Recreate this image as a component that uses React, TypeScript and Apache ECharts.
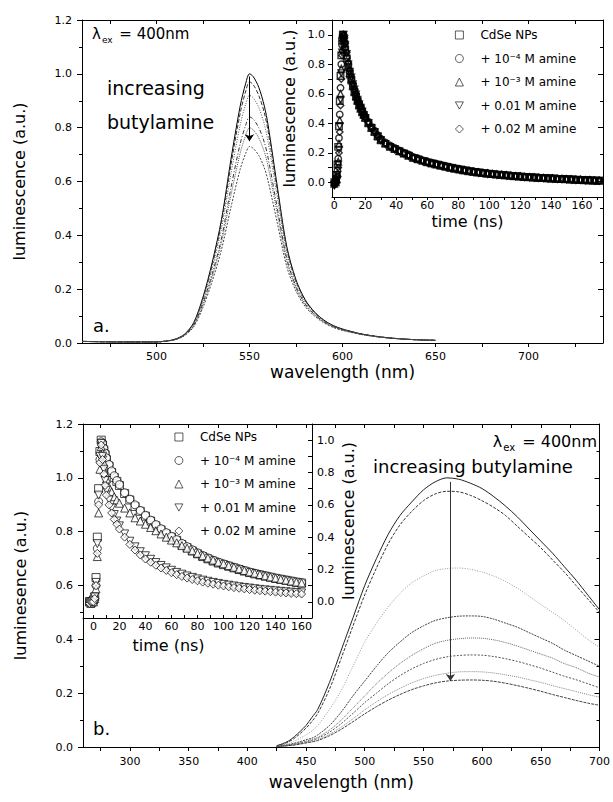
import React, { useEffect, useRef } from "react";
import * as echarts from "echarts";

const FONT = "DejaVu Sans";

// ---------- panel a: steady-state spectra ----------
const topWl = [460, 480, 500, 505, 510, 515, 520, 525, 530, 535, 540, 545, 548, 550, 552, 555, 558, 560, 565, 570, 575, 580, 585, 590, 595, 600, 610, 620, 630, 640, 650];
const topSpec1 = [0.006, 0.004, 0.004, 0.007, 0.014, 0.032, 0.075, 0.17, 0.30, 0.46, 0.68, 0.88, 0.965, 1.0, 0.99, 0.95, 0.88, 0.81, 0.58, 0.36, 0.235, 0.16, 0.115, 0.085, 0.065, 0.052, 0.034, 0.023, 0.016, 0.012, 0.01];
const topSpec2 = [0.006, 0.004, 0.004, 0.007, 0.014, 0.031, 0.073, 0.165, 0.29, 0.447, 0.66, 0.853, 0.936, 0.97, 0.96, 0.92, 0.855, 0.787, 0.565, 0.352, 0.23, 0.157, 0.113, 0.084, 0.064, 0.051, 0.034, 0.023, 0.016, 0.012, 0.01];
const topSpec3 = [0.006, 0.004, 0.004, 0.007, 0.013, 0.03, 0.07, 0.157, 0.277, 0.425, 0.627, 0.81, 0.888, 0.92, 0.911, 0.875, 0.812, 0.748, 0.54, 0.337, 0.222, 0.152, 0.11, 0.082, 0.063, 0.05, 0.033, 0.023, 0.016, 0.012, 0.01];
const topSpec4 = [0.006, 0.004, 0.004, 0.007, 0.013, 0.029, 0.066, 0.148, 0.257, 0.39, 0.575, 0.74, 0.81, 0.84, 0.832, 0.8, 0.745, 0.688, 0.5, 0.315, 0.21, 0.145, 0.106, 0.079, 0.061, 0.049, 0.033, 0.022, 0.016, 0.012, 0.01];
const topSpec5 = [0.006, 0.004, 0.004, 0.007, 0.013, 0.028, 0.064, 0.142, 0.247, 0.374, 0.548, 0.705, 0.772, 0.8, 0.792, 0.762, 0.71, 0.656, 0.48, 0.305, 0.204, 0.141, 0.104, 0.078, 0.06, 0.048, 0.032, 0.022, 0.016, 0.012, 0.01];
const topSpec6 = [0.006, 0.004, 0.004, 0.007, 0.012, 0.027, 0.06, 0.132, 0.23, 0.348, 0.503, 0.645, 0.705, 0.73, 0.723, 0.697, 0.65, 0.602, 0.445, 0.285, 0.193, 0.135, 0.1, 0.075, 0.058, 0.047, 0.032, 0.022, 0.016, 0.012, 0.01];
const topArrow = { x: 550, from: 0.99, to: 0.75 };
const topWlTicks = [475, 500, 525, 550, 575, 600, 625, 650, 675, 700, 725];
const topWlLabels = [500, 550, 600, 650, 700];

// ---------- panel a inset: decays ----------
const topTime = [0, 1, 1.5, 2, 2.5, 3, 3.5, 4, 4.5, 5, 5.5, 6, 6.5, 7, 8, 9, 10, 11, 12, 13, 14, 15, 16, 17, 18, 19, 20, 22, 24, 26, 28, 30, 33, 36, 39, 42, 45, 48, 51, 54, 57, 60, 63, 66, 69, 72, 75, 78, 81, 84, 87, 90, 93, 96, 99, 102, 105, 108, 111, 114, 117, 120, 123, 126, 129, 132, 135, 138, 141, 144, 147, 150, 153, 156, 159, 162, 165, 168, 171];
const topDecay1 = [0.0, 0.02, 0.05, 0.12, 0.24, 0.38, 0.55, 0.72, 0.86, 0.96, 1.0, 0.98, 0.94, 0.9, 0.84, 0.78, 0.73, 0.69, 0.65, 0.61, 0.58, 0.55, 0.52, 0.5, 0.475, 0.455, 0.435, 0.4, 0.37, 0.34, 0.31, 0.285, 0.26, 0.24, 0.225, 0.21, 0.195, 0.18, 0.165, 0.155, 0.145, 0.135, 0.127, 0.12, 0.112, 0.105, 0.098, 0.092, 0.086, 0.08, 0.075, 0.07, 0.066, 0.062, 0.058, 0.055, 0.052, 0.049, 0.046, 0.043, 0.04, 0.038, 0.036, 0.034, 0.032, 0.03, 0.028, 0.026, 0.025, 0.023, 0.022, 0.02, 0.019, 0.017, 0.016, 0.014, 0.013, 0.011, 0.01];
const topDecay2 = [0.0, 0.01, 0.03, 0.08, 0.16, 0.3, 0.46, 0.64, 0.8, 0.93, 1.0, 0.99, 0.95, 0.91, 0.85, 0.8, 0.75, 0.7, 0.66, 0.625, 0.59, 0.56, 0.535, 0.51, 0.485, 0.46, 0.445, 0.41, 0.375, 0.35, 0.32, 0.295, 0.27, 0.25, 0.232, 0.215, 0.2, 0.188, 0.172, 0.162, 0.15, 0.142, 0.132, 0.125, 0.118, 0.11, 0.103, 0.096, 0.09, 0.085, 0.079, 0.074, 0.07, 0.065, 0.062, 0.058, 0.055, 0.052, 0.049, 0.046, 0.043, 0.041, 0.038, 0.036, 0.034, 0.032, 0.03, 0.028, 0.027, 0.025, 0.024, 0.022, 0.021, 0.019, 0.018, 0.016, 0.015, 0.013, 0.012];
const topDecay3 = [-0.01, 0.0, 0.02, 0.06, 0.14, 0.26, 0.42, 0.6, 0.77, 0.9, 0.98, 1.0, 0.96, 0.92, 0.86, 0.79, 0.74, 0.7, 0.655, 0.615, 0.585, 0.555, 0.525, 0.5, 0.48, 0.46, 0.44, 0.405, 0.37, 0.345, 0.315, 0.29, 0.265, 0.243, 0.228, 0.212, 0.197, 0.183, 0.168, 0.158, 0.148, 0.138, 0.13, 0.122, 0.115, 0.108, 0.1, 0.094, 0.088, 0.082, 0.077, 0.072, 0.068, 0.064, 0.06, 0.057, 0.054, 0.051, 0.048, 0.045, 0.042, 0.04, 0.037, 0.035, 0.033, 0.031, 0.029, 0.027, 0.026, 0.024, 0.023, 0.021, 0.02, 0.018, 0.017, 0.015, 0.014, 0.012, 0.011];
const topDecay4 = [-0.02, -0.01, 0.01, 0.05, 0.12, 0.22, 0.38, 0.56, 0.74, 0.88, 0.97, 1.0, 0.97, 0.93, 0.87, 0.8, 0.75, 0.71, 0.665, 0.63, 0.595, 0.56, 0.53, 0.505, 0.48, 0.455, 0.435, 0.4, 0.365, 0.34, 0.31, 0.285, 0.258, 0.238, 0.222, 0.207, 0.192, 0.178, 0.163, 0.153, 0.143, 0.133, 0.125, 0.118, 0.11, 0.103, 0.096, 0.09, 0.084, 0.078, 0.073, 0.069, 0.064, 0.06, 0.057, 0.053, 0.05, 0.048, 0.045, 0.042, 0.039, 0.037, 0.035, 0.033, 0.031, 0.029, 0.027, 0.025, 0.024, 0.022, 0.021, 0.019, 0.018, 0.016, 0.015, 0.013, 0.012, 0.011, 0.01];
const topDecay5 = [-0.02, -0.01, 0.0, 0.04, 0.1, 0.2, 0.34, 0.52, 0.7, 0.86, 0.96, 1.0, 0.98, 0.94, 0.88, 0.81, 0.76, 0.715, 0.67, 0.63, 0.6, 0.565, 0.535, 0.51, 0.485, 0.46, 0.44, 0.405, 0.372, 0.343, 0.312, 0.288, 0.262, 0.242, 0.226, 0.21, 0.196, 0.181, 0.167, 0.156, 0.146, 0.136, 0.128, 0.12, 0.113, 0.106, 0.099, 0.093, 0.087, 0.081, 0.076, 0.071, 0.067, 0.063, 0.059, 0.056, 0.053, 0.05, 0.047, 0.044, 0.041, 0.039, 0.036, 0.034, 0.032, 0.03, 0.028, 0.026, 0.025, 0.023, 0.022, 0.02, 0.019, 0.017, 0.016, 0.014, 0.013, 0.012, 0.01];
const insetTimeTicks = [0, 10, 20, 30, 40, 50, 60, 70, 80, 90, 100, 110, 120, 130, 140, 150, 160, 170];
const insetTimeLabels = [0, 20, 40, 60, 80, 100, 120, 140, 160];
const insetLumTicks = [0, 0.1, 0.2, 0.3, 0.4, 0.5, 0.6, 0.7, 0.8, 0.9, 1.0];
const insetLumLabels = [0, 0.2, 0.4, 0.6, 0.8, 1.0];

// ---------- panel b: steady-state spectra ----------
const botWl = [425, 430, 435, 440, 445, 450, 455, 460, 470, 480, 490, 500, 510, 520, 530, 540, 550, 560, 570, 580, 590, 600, 610, 620, 630, 640, 650, 660, 670, 680, 690, 700];
const botSpec1 = [0.005, 0.012, 0.022, 0.038, 0.058, 0.08, 0.11, 0.14, 0.24, 0.36, 0.48, 0.6, 0.7, 0.79, 0.86, 0.91, 0.955, 0.985, 1.0, 0.995, 0.98, 0.96, 0.93, 0.895, 0.855, 0.81, 0.765, 0.72, 0.67, 0.62, 0.565, 0.51];
const botSpec2 = [0.004, 0.01, 0.019, 0.032, 0.05, 0.07, 0.095, 0.125, 0.215, 0.33, 0.45, 0.565, 0.665, 0.755, 0.825, 0.875, 0.915, 0.94, 0.95, 0.948, 0.935, 0.915, 0.89, 0.86, 0.82, 0.78, 0.74, 0.695, 0.65, 0.6, 0.55, 0.5];
const botSpec3 = [0.003, 0.007, 0.013, 0.022, 0.033, 0.045, 0.06, 0.08, 0.14, 0.21, 0.3, 0.39, 0.46, 0.52, 0.57, 0.61, 0.635, 0.655, 0.663, 0.665, 0.66, 0.65, 0.635, 0.615, 0.59, 0.56, 0.53, 0.5, 0.47, 0.435, 0.4, 0.37];
const botSpec4 = [0.002, 0.005, 0.009, 0.014, 0.02, 0.027, 0.033, 0.045, 0.08, 0.13, 0.19, 0.245, 0.3, 0.35, 0.39, 0.425, 0.45, 0.47, 0.48, 0.486, 0.487, 0.485, 0.475, 0.46, 0.445, 0.425, 0.405, 0.385, 0.36, 0.34, 0.32, 0.3];
const botSpec5 = [0.002, 0.004, 0.007, 0.011, 0.016, 0.022, 0.028, 0.036, 0.063, 0.1, 0.145, 0.19, 0.235, 0.275, 0.31, 0.34, 0.365, 0.385, 0.396, 0.402, 0.405, 0.404, 0.398, 0.388, 0.375, 0.36, 0.345, 0.33, 0.31, 0.295, 0.275, 0.26];
const botSpec6 = [0.002, 0.004, 0.006, 0.01, 0.014, 0.019, 0.025, 0.032, 0.055, 0.087, 0.125, 0.165, 0.2, 0.235, 0.265, 0.29, 0.31, 0.325, 0.335, 0.34, 0.342, 0.341, 0.336, 0.328, 0.318, 0.306, 0.293, 0.278, 0.263, 0.25, 0.235, 0.22];
const botSpec7 = [0.002, 0.003, 0.005, 0.008, 0.012, 0.016, 0.021, 0.027, 0.047, 0.074, 0.105, 0.138, 0.168, 0.195, 0.218, 0.238, 0.254, 0.266, 0.274, 0.279, 0.28, 0.279, 0.275, 0.268, 0.26, 0.25, 0.24, 0.228, 0.217, 0.206, 0.195, 0.185];
const botSpec8 = [0.001, 0.003, 0.005, 0.007, 0.011, 0.015, 0.019, 0.024, 0.042, 0.066, 0.094, 0.123, 0.15, 0.174, 0.195, 0.213, 0.227, 0.238, 0.245, 0.248, 0.249, 0.248, 0.244, 0.237, 0.228, 0.218, 0.207, 0.195, 0.184, 0.173, 0.163, 0.155];
const botArrow = { x: 573, from: 0.985, to: 0.245 };
const botWlTicks = [275, 300, 325, 350, 375, 400, 425, 450, 475, 500, 525, 550, 575, 600, 625, 650, 675, 700];
const botWlLabels = [300, 350, 400, 450, 500, 550, 600, 650, 700];

// ---------- panel b inset: decays ----------
const botTime = [-3, -2, -1, 0, 1, 2, 3, 4, 5, 6, 7, 8, 9, 10, 12, 14, 16, 18, 20, 24, 28, 32, 36, 40, 44, 48, 52, 56, 60, 64, 68, 72, 76, 80, 84, 88, 92, 96, 100, 104, 108, 112, 116, 120, 124, 128, 132, 136, 140, 144, 148, 152, 156, 160];
const botDecay1 = [0, 0, 0, 0.01, 0.03, 0.15, 0.4, 0.7, 0.93, 1.0, 0.97, 0.94, 0.91, 0.88, 0.84, 0.8, 0.77, 0.745, 0.72, 0.67, 0.63, 0.59, 0.56, 0.53, 0.5, 0.47, 0.445, 0.42, 0.4, 0.38, 0.355, 0.335, 0.315, 0.297, 0.28, 0.266, 0.252, 0.24, 0.23, 0.22, 0.21, 0.2, 0.19, 0.181, 0.173, 0.166, 0.159, 0.152, 0.145, 0.139, 0.133, 0.127, 0.121, 0.116];
const botDecay2 = [0, 0, -0.01, 0, 0.02, 0.1, 0.33, 0.62, 0.88, 0.99, 0.98, 0.95, 0.92, 0.89, 0.85, 0.81, 0.78, 0.75, 0.725, 0.675, 0.635, 0.6, 0.565, 0.535, 0.505, 0.478, 0.452, 0.428, 0.405, 0.385, 0.362, 0.342, 0.322, 0.304, 0.287, 0.272, 0.258, 0.246, 0.235, 0.224, 0.214, 0.204, 0.194, 0.185, 0.177, 0.169, 0.162, 0.155, 0.148, 0.142, 0.136, 0.13, 0.124, 0.119];
const botDecay3 = [0, -0.01, 0, 0, 0.02, 0.08, 0.28, 0.55, 0.82, 0.96, 0.92, 0.86, 0.8, 0.76, 0.71, 0.68, 0.65, 0.63, 0.61, 0.58, 0.55, 0.52, 0.5, 0.48, 0.46, 0.44, 0.42, 0.4, 0.382, 0.365, 0.348, 0.332, 0.316, 0.3, 0.285, 0.271, 0.258, 0.246, 0.235, 0.224, 0.214, 0.204, 0.194, 0.185, 0.177, 0.169, 0.161, 0.154, 0.147, 0.14, 0.134, 0.128, 0.122, 0.117];
const botDecay4 = [0, 0, 0, 0.01, 0.03, 0.12, 0.36, 0.66, 0.9, 0.98, 0.9, 0.82, 0.75, 0.69, 0.63, 0.58, 0.54, 0.5, 0.47, 0.42, 0.375, 0.34, 0.31, 0.285, 0.263, 0.243, 0.225, 0.21, 0.195, 0.182, 0.171, 0.16, 0.151, 0.142, 0.134, 0.127, 0.12, 0.114, 0.108, 0.103, 0.098, 0.093, 0.089, 0.085, 0.081, 0.077, 0.074, 0.071, 0.068, 0.065, 0.062, 0.06, 0.057, 0.055];
const botDecay5 = [-0.01, 0, 0, 0, 0.02, 0.1, 0.3, 0.6, 0.86, 0.97, 0.88, 0.79, 0.72, 0.66, 0.6, 0.55, 0.51, 0.48, 0.45, 0.4, 0.355, 0.32, 0.29, 0.265, 0.245, 0.226, 0.209, 0.194, 0.18, 0.168, 0.157, 0.147, 0.138, 0.13, 0.122, 0.115, 0.109, 0.103, 0.098, 0.093, 0.088, 0.084, 0.08, 0.076, 0.072, 0.069, 0.066, 0.063, 0.06, 0.057, 0.055, 0.052, 0.05, 0.048];

const seriesNames = ["CdSe NPs", "+ 10⁻⁴ M amine", "+ 10⁻³ M amine", "+ 0.01 M amine", "+ 0.02 M amine"];

const symbols = ["rect", "circle", "triangle", "path://M0,0L10,0L5,9Z", "diamond"];
const topLineStyles = [
  { color: "#000", width: 1, type: "solid" },
  { color: "#333", width: 1, type: [4, 2] },
  { color: "#555", width: 1, type: [1, 1.5] },
  { color: "#333", width: 1, type: [4, 2, 1, 2] },
  { color: "#555", width: 1, type: [1, 1] },
  { color: "#444", width: 1, type: [2, 1.5] },
];
const botLineStyles = [
  { color: "#222", width: 1, type: "solid" },
  { color: "#333", width: 1, type: [3, 1.5] },
  { color: "#999", width: 1, type: [1, 1.5] },
  { color: "#444", width: 1, type: [2, 1] },
  { color: "#666", width: 1, type: [1, 1] },
  { color: "#555", width: 1, type: [2, 1.5] },
  { color: "#888", width: 1, type: [1, 1] },
  { color: "#444", width: 1, type: [3, 1] },
];

const zip = (xs: number[], ys: number[]) => xs.map((x, i) => [x, ys[i]]);

const line = { show: true, onZero: false, lineStyle: { color: "#000", width: 1 } };
const lbl = { color: "#000", fontFamily: FONT, fontSize: 11 };
const nameStyle = (size: number) => ({ color: "#000", fontFamily: FONT, fontSize: size });
const fmt1 = (v: number) => v.toFixed(1);
const fmt0 = (v: number) => String(Math.round(v));

export default function App() {
  const ref = useRef<HTMLDivElement>(null);
  useEffect(() => {
    const chart = echarts.init(ref.current!, null, { renderer: "svg" });

    const topSpecs = [topSpec1, topSpec2, topSpec3, topSpec4, topSpec5, topSpec6];
    const botSpecs = [botSpec1, botSpec2, botSpec3, botSpec4, botSpec5, botSpec6, botSpec7, botSpec8];
    const topDecays = [topDecay1, topDecay2, topDecay3, topDecay4, topDecay5];
    const botDecays = [botDecay1, botDecay2, botDecay3, botDecay4, botDecay5];

    const series: any[] = [];
    topSpecs.forEach((d, i) => {
      series.push({
        type: "line", xAxisIndex: 0, yAxisIndex: 0, data: zip(topWl, d),
        showSymbol: false, symbol: "none", smooth: 0.3, silent: true, lineStyle: topLineStyles[i],
        ...(i === 0 ? {
          markLine: {
            silent: true, symbol: ["none", "arrow"], symbolSize: 7, label: { show: false },
            lineStyle: { color: "#000", width: 1, type: "solid" },
            data: [[{ coord: [topArrow.x, topArrow.from] }, { coord: [topArrow.x, topArrow.to] }]],
          },
        } : {}),
      });
    });
    botSpecs.forEach((d, i) => {
      series.push({
        type: "line", xAxisIndex: 3, yAxisIndex: 3, data: zip(botWl, d),
        showSymbol: false, symbol: "none", smooth: 0.3, silent: true, lineStyle: botLineStyles[i],
        ...(i === 0 ? {
          markLine: {
            silent: true, symbol: ["none", "arrow"], symbolSize: 7, label: { show: false },
            lineStyle: { color: "#333", width: 1, type: "solid" },
            data: [[{ coord: [botArrow.x, botArrow.from] }, { coord: [botArrow.x, botArrow.to] }]],
          },
        } : {}),
      });
    });
    topDecays.forEach((d, i) => {
      series.push({
        type: "scatter", name: seriesNames[i], xAxisIndex: 2, yAxisIndex: 2, data: zip(topTime, d),
        symbol: symbols[i], symbolSize: 6.5, silent: true,
        itemStyle: { color: "rgba(255,255,255,0)", borderColor: "#000", borderWidth: 1.4 },
      });
    });
    botDecays.forEach((d, i) => {
      series.push({
        type: "scatter", name: seriesNames[i], xAxisIndex: 5, yAxisIndex: 5, data: zip(botTime, d),
        symbol: symbols[i], symbolSize: 8, silent: true,
        itemStyle: { color: "#fff", borderColor: "#000", borderWidth: 0.9 },
      });
    });

    const legendBase = {
      data: seriesNames, orient: "vertical", itemWidth: 8, itemHeight: 8, itemGap: 9.5, padding: 0,
      selectedMode: false,
      itemStyle: { color: "#fff", borderColor: "#000", borderWidth: 0.8 },
      textStyle: { fontFamily: FONT, fontSize: 12, color: "#000", lineHeight: 14, padding: [0, 0, 0, 12] },
    };

    const option: any = {
      animation: false,
      backgroundColor: "#fff",
      textStyle: { fontFamily: FONT },
      grid: [
        { left: 82, top: 20, width: 521, height: 323 },
        { left: 332, top: 20, width: 271, height: 177 },
        { left: 83, top: 424, width: 520, height: 323 },
        { left: 83, top: 424, width: 229, height: 194 },
      ],
      xAxis: [
        {
          type: "value", gridIndex: 0, min: 460, max: 740, axisLine: line, splitLine: { show: false },
          axisTick: { customValues: topWlTicks, length: 4, lineStyle: { color: "#000" } },
          axisLabel: { ...lbl, customValues: topWlLabels, margin: 8, formatter: fmt0 },
          name: "wavelength (nm)", nameLocation: "middle", nameGap: 20, nameTextStyle: nameStyle(17),
        },
        {
          type: "value", gridIndex: 0, position: "top", min: 460, max: 740, axisLine: line, splitLine: { show: false },
          axisTick: { customValues: topWlTicks, inside: true, length: 4, lineStyle: { color: "#000" } },
          axisLabel: { show: false },
        },
        {
          type: "value", gridIndex: 1, min: -1.5, max: 173.5, axisLine: line, splitLine: { show: false },
          axisTick: { customValues: insetTimeTicks, length: 3, lineStyle: { color: "#000" } },
          axisLabel: { ...lbl, customValues: insetTimeLabels, margin: 3, formatter: fmt0 },
          name: "time (ns)", nameLocation: "middle", nameGap: 16, nameTextStyle: nameStyle(16),
        },
        {
          type: "value", gridIndex: 2, min: 260, max: 700, axisLine: line, splitLine: { show: false },
          axisTick: { customValues: botWlTicks, length: 4, lineStyle: { color: "#000" } },
          axisLabel: { ...lbl, customValues: botWlLabels, margin: 9, formatter: fmt0 },
          name: "wavelength (nm)", nameLocation: "middle", nameGap: 26, nameTextStyle: nameStyle(17),
        },
        {
          type: "value", gridIndex: 2, position: "top", min: 260, max: 700, axisLine: line, splitLine: { show: false },
          axisTick: { customValues: botWlTicks, inside: true, length: 4, lineStyle: { color: "#000" } },
          axisLabel: { show: false },
        },
        {
          type: "value", gridIndex: 3, min: -8, max: 168, axisLine: line, splitLine: { show: false },
          axisTick: { customValues: insetTimeTicks.filter((t) => t <= 160), length: 3, inside: true, lineStyle: { color: "#000" } },
          axisLabel: { ...lbl, customValues: insetTimeLabels, margin: 3, formatter: fmt0 },
          name: "time (ns)", nameLocation: "middle", nameGap: 19,
          nameTextStyle: { ...nameStyle(16), padding: [0, 58, 0, 0] },
        },
      ],
      yAxis: [
        {
          type: "value", gridIndex: 0, min: 0, max: 1.2, interval: 0.2, axisLine: line, splitLine: { show: false },
          axisTick: { length: 5, lineStyle: { color: "#000" } },
          minorTick: { show: true, splitNumber: 2, length: 3, lineStyle: { color: "#000" } },
          axisLabel: { ...lbl, margin: 10, formatter: fmt1 },
          name: "luminescence (a.u.)", nameLocation: "middle", nameGap: 55, nameRotate: 90, nameTextStyle: nameStyle(16),
        },
        {
          type: "value", gridIndex: 0, position: "right", min: 0, max: 1.2, interval: 0.2, axisLine: line, splitLine: { show: false },
          axisTick: { inside: true, length: 5, lineStyle: { color: "#000" } },
          minorTick: { show: true, splitNumber: 2, length: 3, lineStyle: { color: "#000" } },
          axisLabel: { show: false },
        },
        {
          type: "value", gridIndex: 1, min: -0.1, max: 1.1, axisLine: line, splitLine: { show: false },
          axisTick: { customValues: insetLumTicks, length: 4, lineStyle: { color: "#000" } },
          axisLabel: { ...lbl, customValues: insetLumLabels, margin: 7, formatter: fmt1 },
          name: "luminescence (a.u.)", nameLocation: "middle", nameGap: 35, nameRotate: 90, nameTextStyle: nameStyle(16),
        },
        {
          type: "value", gridIndex: 2, min: 0, max: 1.2, interval: 0.2, axisLine: line, splitLine: { show: false },
          axisTick: { length: 5, lineStyle: { color: "#000" } },
          minorTick: { show: true, splitNumber: 2, length: 3, lineStyle: { color: "#000" } },
          axisLabel: { ...lbl, margin: 10, formatter: fmt1 },
          name: "luminesence (a.u.)", nameLocation: "middle", nameGap: 55, nameRotate: 90, nameTextStyle: nameStyle(16),
        },
        {
          type: "value", gridIndex: 2, position: "right", min: 0, max: 1.2, interval: 0.2, axisLine: line, splitLine: { show: false },
          axisTick: { inside: true, length: 5, lineStyle: { color: "#000" } },
          minorTick: { show: true, splitNumber: 2, length: 3, lineStyle: { color: "#000" } },
          axisLabel: { show: false },
        },
        {
          type: "value", gridIndex: 3, position: "right", min: -0.1, max: 1.1, axisLine: line, splitLine: { show: false },
          axisTick: { customValues: insetLumTicks, inside: true, length: 4, lineStyle: { color: "#000" } },
          axisLabel: { ...lbl, customValues: insetLumLabels, margin: 5, formatter: fmt1 },
          name: "luminescence (a.u.)", nameLocation: "middle", nameGap: 28, nameRotate: 90, nameTextStyle: nameStyle(16),
        },
      ],
      legend: [
        { ...legendBase, left: 455, top: 28 },
        { ...legendBase, left: 174.5, top: 430 },
      ],
      graphic: [
        {
          type: "text", x: 92, y: 34,
          style: {
            text: "{a|λ}{b|ex}{a| = 400nm}", fill: "#000", textVerticalAlign: "middle",
            rich: {
              a: { fontFamily: FONT, fontSize: 15, lineHeight: 20, verticalAlign: "middle", fill: "#000" },
              b: { fontFamily: FONT, fontSize: 9, lineHeight: 20, verticalAlign: "bottom", padding: [0, 2, 0, 1], fill: "#000" },
            },
          },
        },
        { type: "text", x: 107, y: 88, style: { text: "increasing", font: `19px "${FONT}"`, fill: "#000", textVerticalAlign: "middle" } },
        { type: "text", x: 107, y: 122, style: { text: "butylamine", font: `19px "${FONT}"`, fill: "#000", textVerticalAlign: "middle" } },
        { type: "text", x: 93, y: 325, style: { text: "a.", font: `18px "${FONT}"`, fill: "#000", textVerticalAlign: "middle" } },
        {
          type: "text", x: 597, y: 441,
          style: {
            text: "{a|λ}{b|ex}{a| = 400nm}", fill: "#000", textAlign: "right", textVerticalAlign: "middle",
            rich: {
              a: { fontFamily: FONT, fontSize: 16, lineHeight: 22, verticalAlign: "middle", fill: "#000" },
              b: { fontFamily: FONT, fontSize: 10, lineHeight: 22, verticalAlign: "bottom", padding: [0, 2, 0, 1], fill: "#000" },
            },
          },
        },
        { type: "text", x: 373, y: 466, style: { text: "increasing butylamine", font: `18px "${FONT}"`, fill: "#000", textVerticalAlign: "middle" } },
        { type: "text", x: 93, y: 728, style: { text: "b.", font: `18px "${FONT}"`, fill: "#000", textVerticalAlign: "middle" } },
      ],
      series,
    };

    chart.setOption(option);
    return () => chart.dispose();
  }, []);

  return (
    <div
      ref={ref}
      style={{ position: "fixed", left: 0, top: 0, width: 613, height: 802, background: "#fff" }}
    />
  );
}
